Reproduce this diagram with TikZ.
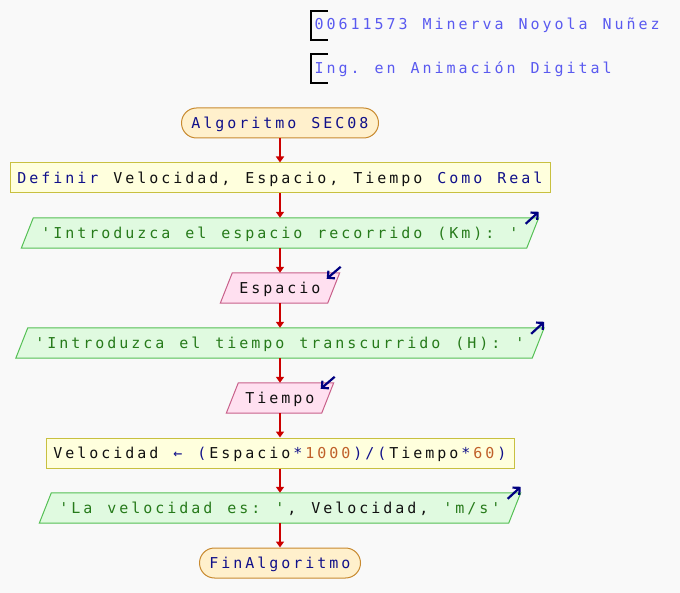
\documentclass[tikz,border=0pt]{standalone}
\usepackage{fontspec}
\usetikzlibrary{arrows.meta,backgrounds}
\newfontfamily\pmono[Ligatures=TeXOff]{DejaVu Sans Mono}
\ExplSyntaxOn
\NewDocumentCommand\mt{m}{ \str_map_inline:nn {#1} { \makebox[12pt]{##1} } }
\ExplSyntaxOff
\definecolor{bgC}{HTML}{F9F9F9}
\definecolor{kwC}{HTML}{10108A}
\definecolor{vrC}{HTML}{101010}
\definecolor{stC}{HTML}{267A1A}
\definecolor{nmC}{HTML}{C0602A}
\definecolor{hdrC}{HTML}{5A5AF0}
\definecolor{termF}{HTML}{FFF0CC}
\definecolor{termB}{HTML}{C88A30}
\definecolor{procF}{HTML}{FFFFDD}
\definecolor{procB}{HTML}{C8C040}
\definecolor{outF}{HTML}{E0FAE0}
\definecolor{outB}{HTML}{55C055}
\definecolor{inF}{HTML}{FFE0F0}
\definecolor{inB}{HTML}{C8608A}
\definecolor{flowR}{HTML}{CC0000}
\definecolor{ioC}{HTML}{000080}
\newcommand\kw[1]{\textcolor{kwC}{\mt{#1}}}
\newcommand\vr[1]{\textcolor{vrC}{\mt{#1}}}
\newcommand\st[1]{\textcolor{stC}{\mt{#1}}}
\newcommand\nm[1]{\textcolor{nmC}{\mt{#1}}}
\begin{document}
\begin{tikzpicture}[x=1pt,y=-1pt,
  base/.style={font=\pmono\fontsize{15}{17}\selectfont, inner sep=0pt, minimum height=30pt,
    text height=10.9pt, text depth=0pt, align=center},
  term/.style={base, rounded corners=15pt, draw=termB, fill=termF, line width=1pt},
  proc/.style={base, draw=procB, fill=procF, line width=1pt},
  para/.style={base},
  hdr/.style={font=\pmono\fontsize{15}{17}\selectfont, inner sep=0pt, text=hdrC,
    text height=10.9pt, text depth=0pt, anchor=west},
  flow/.style={draw=flowR, line width=1.6pt, -{Triangle[length=6pt,width=8pt]}},
  io/.style={draw=ioC, line width=2.2pt, -{Straight Barb[length=5pt,width=10pt]}},
  brk/.style={draw=black, line width=1.2pt}
]
\useasboundingbox (0,0) rectangle (680,593);

% header
\draw[brk] (328,11) -- (311,11) -- (311,40) -- (328,40);
\draw[brk] (328,54) -- (311,54) -- (311,83) -- (328,83);
\node[hdr] (h1) at (313,24.5) {\mt{00611573 Minerva Noyola Nuñez}};
\node[hdr] (h2) at (313,68) {\mt{Ing. en Animación Digital}};

% flowchart nodes
\node[term, minimum width=197pt] (s) at (280,123) {\kw{Algoritmo SEC08}};
\node[proc, minimum width=540pt] (d) at (280,178) {\kw{Definir }\vr{Velocidad, Espacio, Tiempo }\kw{Como Real}};
\node[para, minimum width=517pt] (o1) at (280,233) {\st{'Introduzca el espacio recorrido (Km): '}};
\node[para, minimum width=119pt] (i1) at (280,288) {\vr{Espacio}};
\node[para, minimum width=528pt] (o2) at (280,343) {\st{'Introduzca el tiempo transcurrido (H): '}};
\node[para, minimum width=107pt] (i2) at (280,398) {\vr{Tiempo}};
\node[proc, minimum width=468pt] (a) at (280,453) {\vr{Velocidad }\kw{← (}\vr{Espacio}\kw{*}\nm{1000}\kw{)/(}\vr{Tiempo}\kw{*}\nm{60}\kw{)}};
\node[para, minimum width=481pt] (o3) at (280,508) {\st{'La velocidad es: '}\vr{, Velocidad, }\st{'m/s'}};
\node[term, minimum width=161pt] (e) at (280,563) {\kw{FinAlgoritmo}};

\begin{scope}[on background layer]
  \fill[bgC] (0,0) rectangle (680,593);
  \foreach \n/\f/\b in {o1/outF/outB, o2/outF/outB, o3/outF/outB, i1/inF/inB, i2/inF/inB}
    \filldraw[fill=\f, draw=\b, line width=1pt]
      (\n.south west) -- ([xshift=12pt]\n.north west) -- (\n.north east)
      -- ([xshift=-12pt]\n.south east) -- cycle;
\end{scope}

% flow connectors
\draw[flow] (s) -- (d);
\draw[flow] (d) -- (o1);
\draw[flow] (o1) -- (i1);
\draw[flow] (i1) -- (o2);
\draw[flow] (o2) -- (i2);
\draw[flow] (i2) -- (a);
\draw[flow] (a) -- (o3);
\draw[flow] (o3) -- (e);

% io markers
\foreach \n in {o1,o2,o3}{
  \coordinate (\n-from) at ([xshift=-13pt,yshift=-6pt]\n.north east);
  \coordinate (\n-to) at ([yshift=6pt]\n.north east);
  \draw[io] (\n-from) -- (\n-to);
}
\foreach \n in {i1,i2}{
  \coordinate (\n-from) at ([xshift=1pt,yshift=6pt]\n.north east);
  \coordinate (\n-to) at ([xshift=-13pt,yshift=-6pt]\n.north east);
  \draw[io] (\n-from) -- (\n-to);
}
\end{tikzpicture}
\end{document}
